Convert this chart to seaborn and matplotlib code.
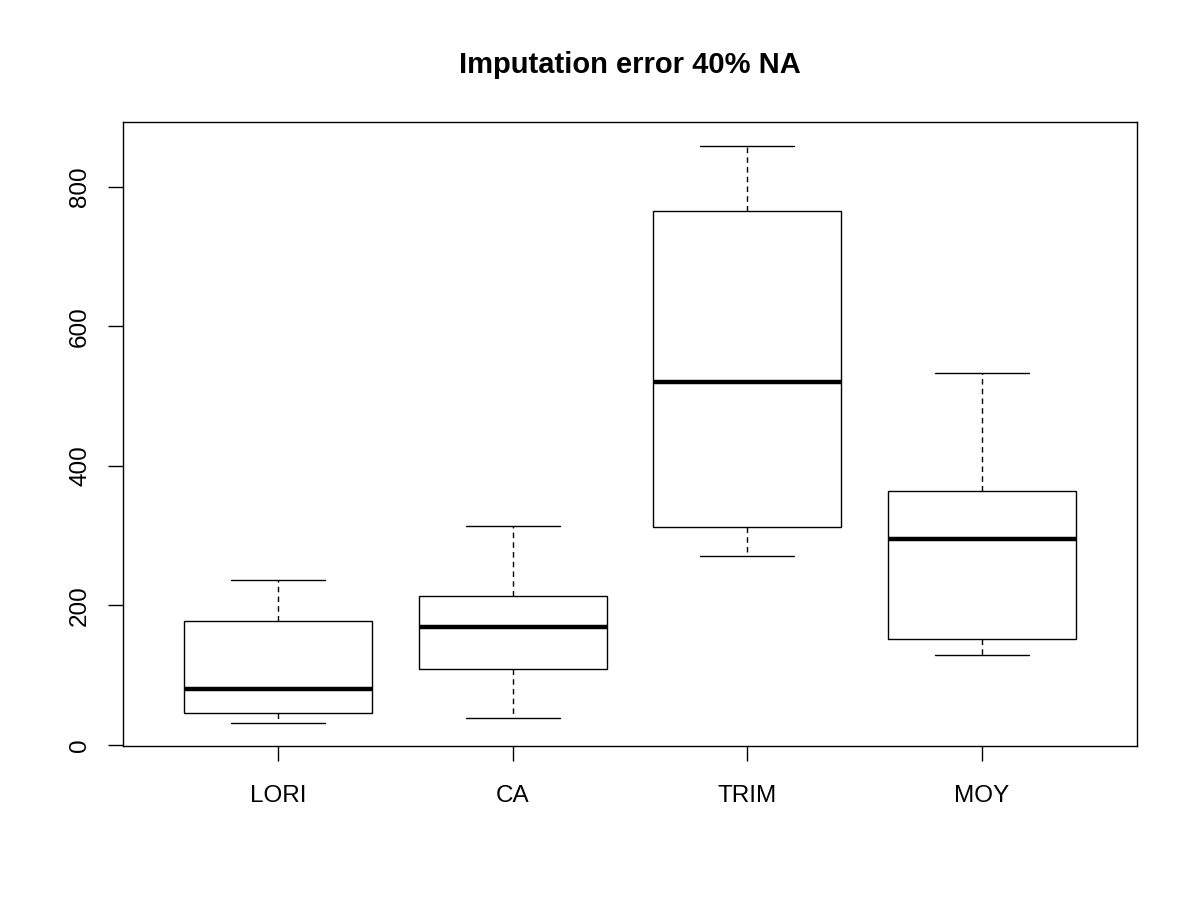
import matplotlib
matplotlib.use("Agg")
import matplotlib.pyplot as plt
import seaborn as sns
import pandas as pd

# five-number summaries: low whisker, Q1, median, Q3, high whisker
methods = ["LORI", "CA", "TRIM", "MOY"]
lori = [31.5, 45.9, 80.3, 177.8, 236.6]
ca = [38.7, 109.0, 169.2, 213.6, 314.0]
trim = [271.0, 312.5, 520.4, 765.6, 858.8]
moy = [129.0, 152.0, 295.3, 364.2, 533.3]
yticks = [0, 200, 400, 600, 800]

df = pd.DataFrame({
    "method": [m for m in methods for _ in range(5)],
    "error": lori + ca + trim + moy,
})

sns.set_style("white")
plt.rcParams["font.family"] = ["Liberation Sans", "DejaVu Sans"]

fig = plt.figure(figsize=(12, 9), dpi=100)
ax = fig.add_axes([0.1025, 0.1711, 0.845, 0.6933])

sns.boxplot(
    data=df, x="method", y="error", order=methods,
    color="white", linecolor="black", linewidth=1.0, saturation=1,
    width=0.8, whis=(0, 100), showfliers=False,
    whiskerprops=dict(linestyle=(0, (4, 3))),
    medianprops=dict(linewidth=3.2),
    ax=ax,
)

ax.set_xlim(-0.66, 3.66)
ax.set_ylim(-1.5, 893)
ax.set_yticks(yticks)
ax.set_xlabel("")
ax.set_ylabel("")
ax.tick_params(axis="both", direction="out", length=11, width=1.0,
               labelsize=17.5, color="black", labelcolor="black",
               bottom=True, left=True)
ax.tick_params(axis="x", pad=17)
ax.tick_params(axis="y", pad=12)
plt.setp(ax.get_yticklabels(), rotation=90, va="center")
for s in ax.spines.values():
    s.set_visible(True)
    s.set_color("black")
    s.set_linewidth(1.0)

fig.text(0.525, 0.928, "Imputation error 40% NA", ha="center", va="center",
         fontsize=21, fontweight="bold", color="black")

fig.savefig("out.png", dpi=100, facecolor="white")
